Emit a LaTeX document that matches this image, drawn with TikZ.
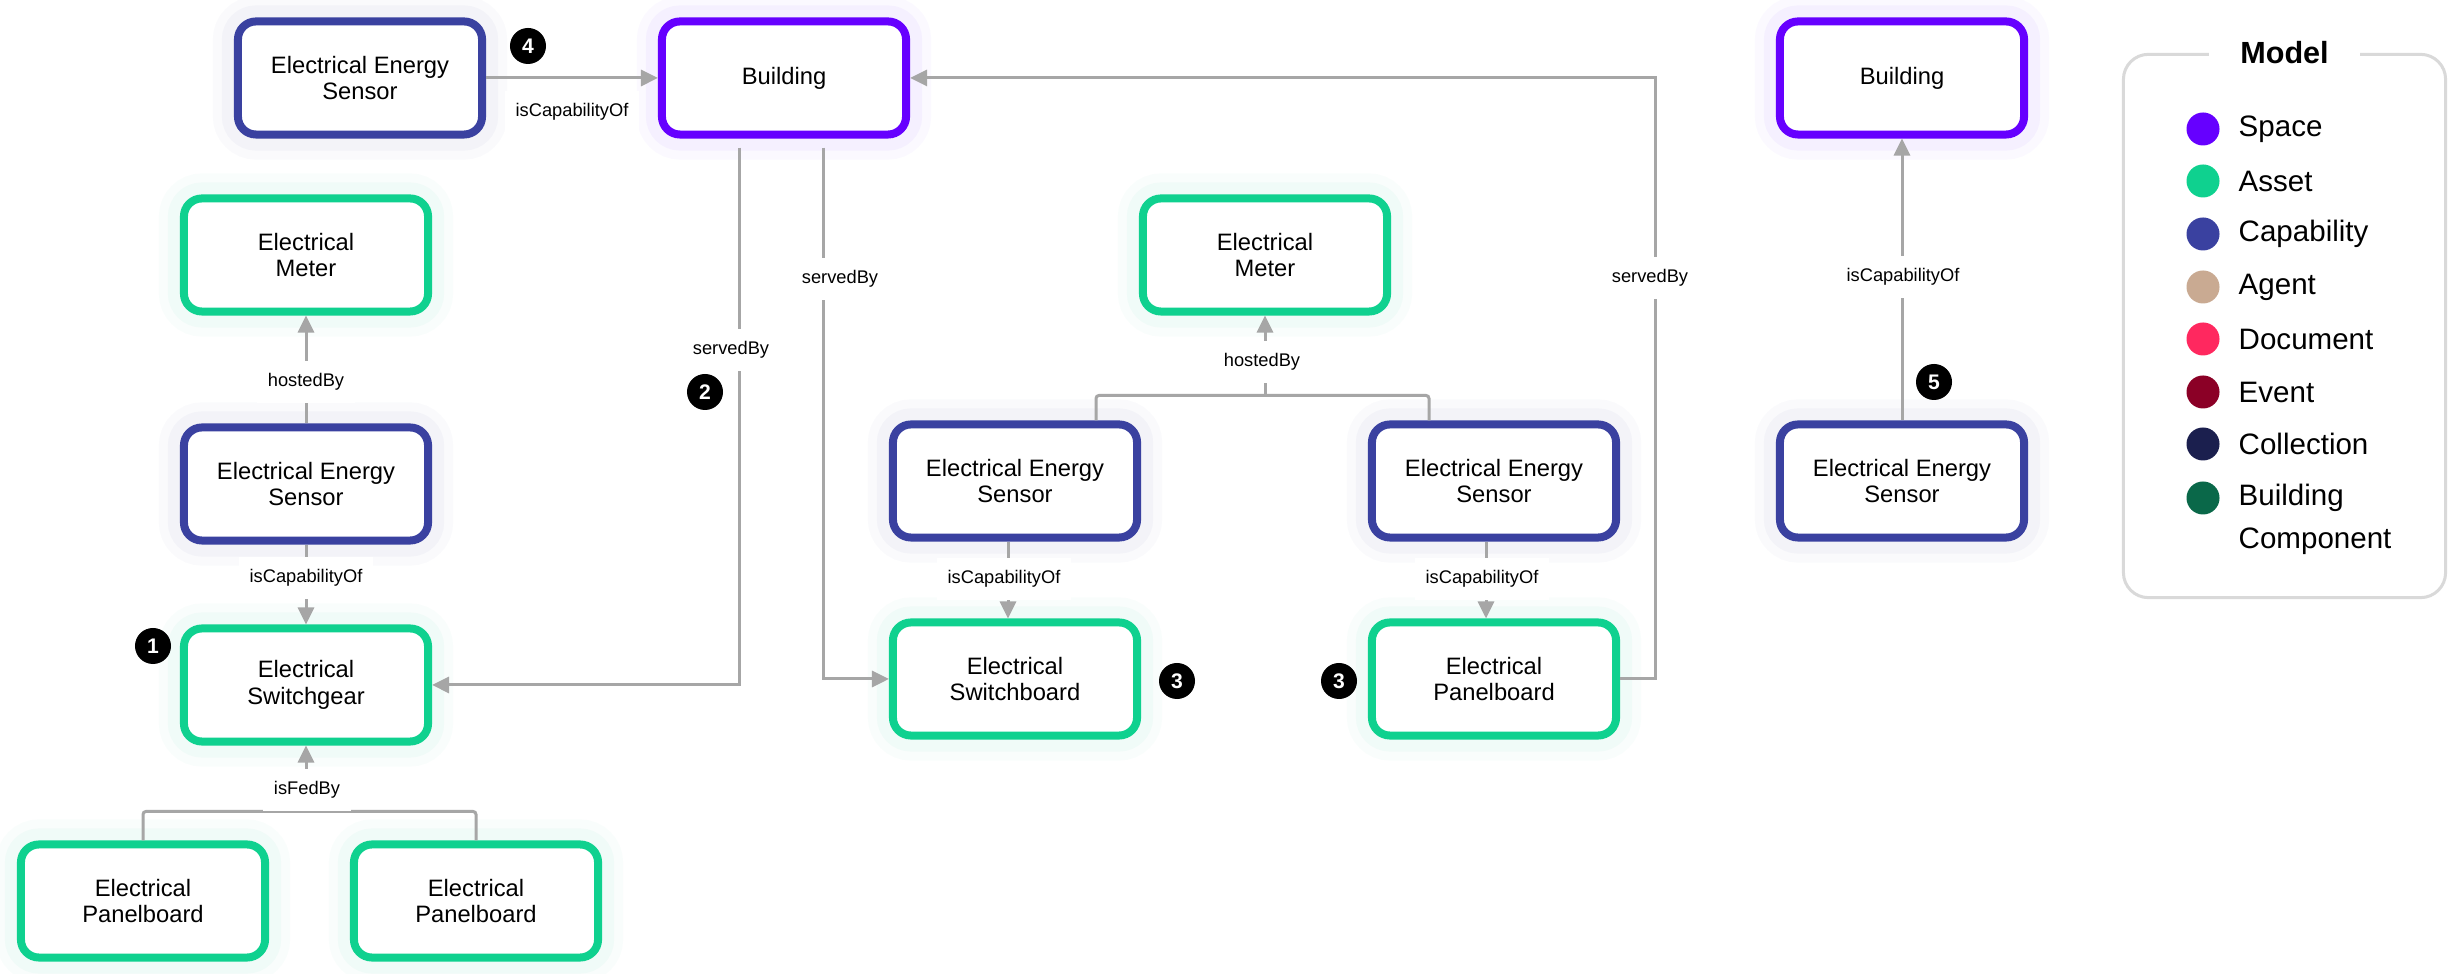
\documentclass[tikz,border=0pt]{standalone}
\usepackage{fontspec}
\setmainfont{Liberation Sans}
\usetikzlibrary{arrows.meta,calc}

% category colours
\definecolor{space}{HTML}{6600FF}
\definecolor{asset}{HTML}{0FD18F}
\definecolor{capab}{HTML}{3A41A0}
\definecolor{agent}{HTML}{C9AA92}
\definecolor{docu}{HTML}{FF285F}
\definecolor{event}{HTML}{8B0026}
\definecolor{collec}{HTML}{1B1F4E}
\definecolor{bcomp}{HTML}{0A6849}
\definecolor{wire}{HTML}{A6A6A6}
\definecolor{frame}{HTML}{D9D9D9}

\begin{document}
\begin{tikzpicture}[x=0.01cm,y=-0.01cm,
  entity/.style={draw=#1, line width=0.08cm, rounded corners=0.18cm, fill=white,
    minimum width=2.44cm, minimum height=1.13cm, inner sep=0pt, align=center,
    font=\fontsize{6.75}{7.5}\selectfont,
    preaction={draw=#1, draw opacity=0.025, line width=0.50cm},
    preaction={draw=#1, draw opacity=0.035, line width=0.32cm}},
  link/.style={draw=wire, line width=0.03cm},
  arr/.style={link, -{Triangle[length=0.17cm,width=0.16cm]}},
  lbl/.style={fill=white, inner xsep=3pt, inner ysep=3.5pt,
    font=\fontsize{5.2}{6}\selectfont},
  num/.style={circle, fill=black, text=white, minimum size=0.36cm, inner sep=0pt,
    font=\bfseries\fontsize{6}{6}\selectfont},
  keydot/.style={circle, fill=#1, minimum size=0.33cm, inner sep=0pt},
  keytext/.style={anchor=west, inner sep=0pt, align=left,
    font=\fontsize{8.4}{12.2}\selectfont}]

\fill[white] (0,0) rectangle (2457,974);
\useasboundingbox (0,0) rectangle (2457,974);

% ---- entities ----
\node[entity=capab] (eesA) at (360,78)  {Electrical Energy\\Sensor};
\node[entity=space] (bldA) at (784,78)  {Building};
\node[entity=asset] (mtrA) at (306,255) {Electrical\\Meter};
\node[entity=capab] (eesB) at (306,484) {Electrical Energy\\Sensor};
\node[entity=asset] (swg)  at (306,685) {Electrical\\Switchgear};
\node[entity=asset] (pnA)  at (143,901) {Electrical\\Panelboard};
\node[entity=asset] (pnB)  at (476,901) {Electrical\\Panelboard};
\node[entity=asset] (mtrB) at (1265,255) {Electrical\\Meter};
\node[entity=capab] (eesC) at (1015,481) {Electrical Energy\\Sensor};
\node[entity=capab] (eesD) at (1494,481) {Electrical Energy\\Sensor};
\node[entity=asset] (swb)  at (1015,679) {Electrical\\Switchboard};
\node[entity=asset] (pnC)  at (1494,679) {Electrical\\Panelboard};
\node[entity=space] (bldB) at (1902,78)  {Building};
\node[entity=capab] (eesE) at (1902,481) {Electrical Energy\\Sensor};

% ---- connectors ----
\draw[arr] (eesA.east) -- (bldA.west);
\draw[arr] ($(bldA.south)+(-45,9)$) |- (swg.east);
\draw[arr] ($(bldA.south)+(39,9)$) |- (swb.west);
\draw[arr] (pnC.east) -- ++(35,0) |- (bldA.east);

\draw[arr] (eesB.north) -- (mtrA.south);
\draw[arr] (eesB.south) -- (swg.north);

\coordinate (fedjoin) at ($(pnA.north)+(0,-29)$);
\draw[link, rounded corners=0.03cm] (pnA.north) -- (fedjoin) -| (pnB.north);
\draw[arr] (swg.south |- fedjoin) -- (swg.south);

\coordinate (hostjoin) at ($(eesC.north)+(81,-25)$);
\draw[link, rounded corners=0.03cm] ($(eesC.north)+(81,0)$) -- (hostjoin)
  -| ($(eesD.north)+(-65,0)$);
\draw[arr] (mtrB.south |- hostjoin) -- (mtrB.south);

\draw[arr] ($(eesC.south)+(-7,0)$) -- ($(swb.north)+(-7,0)$);
\draw[arr] ($(eesD.south)+(-8,0)$) -- ($(pnC.north)+(-8,0)$);
\draw[arr] (eesE.north) -- (bldB.south);

% ---- connector labels ----
\node[lbl] (l1)  at (572,112)  {isCapabilityOf};
\node[lbl] (l2)  at (731,350)  {servedBy};
\node[lbl] (l3)  at (840,279)  {servedBy};
\node[lbl] (l4)  at (1650,278) {servedBy};
\node[lbl] (l5)  at (306,382)  {hostedBy};
\node[lbl] (l6)  at (306,578)  {isCapabilityOf};
\node[lbl] (l7)  at (307,790)  {isFedBy};
\node[lbl] (l8)  at (1262,362) {hostedBy};
\node[lbl] (l9)  at (1004,579) {isCapabilityOf};
\node[lbl] (l10) at (1482,579) {isCapabilityOf};
\node[lbl] (l11) at (1903,277) {isCapabilityOf};

% ---- numbered markers ----
\node[num] (n1)  at (153,646)  {1};
\node[num] (n2)  at (705,392)  {2};
\node[num] (n3a) at (1177,681) {3};
\node[num] (n3b) at (1339,681) {3};
\node[num] (n4)  at (528,46)   {4};
\node[num] (n5)  at (1934,382) {5};

% ---- legend ----
\node[draw=frame, line width=0.03cm, rounded corners=0.25cm,
  minimum width=3.22cm, minimum height=5.43cm] (legend) at (2284.5,326) {};
\node[fill=white, inner xsep=9pt, inner ysep=2pt,
  font=\bfseries\fontsize{8.7}{9}\selectfont] (legtitle) at (legend.north) {Model};

\node[keydot=space]  (kSpace) at (2203,129) {};
\node[keydot=asset]  (kAsset) at (2203,181) {};
\node[keydot=capab]  (kCap)   at (2203,234) {};
\node[keydot=agent]  (kAgent) at (2203,287) {};
\node[keydot=docu]   (kDoc)   at (2203,339) {};
\node[keydot=event]  (kEvent) at (2203,392) {};
\node[keydot=collec] (kColl)  at (2203,444) {};
\node[keydot=bcomp]  (kBC)    at (2203,498) {};

\node[keytext] (tSpace) at (2238,129) {Space};
\node[keytext] (tAsset) at (2238,181) {Asset};
\node[keytext] (tCap)   at (2238,234) {Capability};
\node[keytext] (tAgent) at (2238,287) {Agent};
\node[keytext] (tDoc)   at (2238,339) {Document};
\node[keytext] (tEvent) at (2238,392) {Event};
\node[keytext] (tColl)  at (2238,444) {Collection};
\node[keytext] (tBC)    at (2238,519) {Building\\Component};
\end{tikzpicture}
\end{document}
